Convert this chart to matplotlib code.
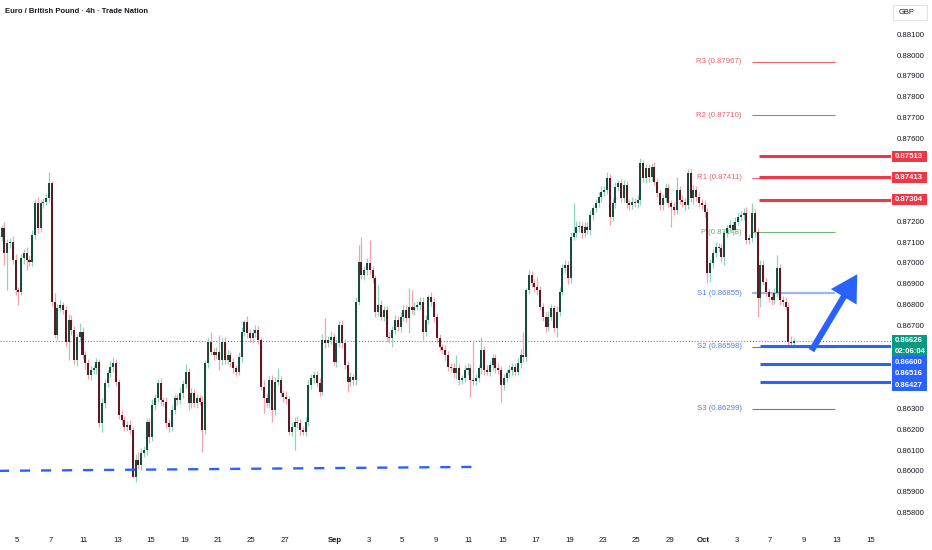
import numpy as np
import matplotlib
matplotlib.use("Agg")
import matplotlib.pyplot as plt
from matplotlib import font_manager
from matplotlib.patches import Rectangle, FancyArrowPatch

# EUR/GBP 4h candles (trading time only, 6 per day), prices in 1e-5 units
first_open = 87125
closes = [
    87167, 87047, 87095, 87103, 87014, 86870, 86862, 87022, 87047, 87014,
    87006, 87135, 87287, 87167, 87287, 87295, 87311, 87383, 86814, 86654,
    86782, 86798, 86774, 86622, 86726, 86678, 86533, 86645, 86670, 86557,
    86517, 86461, 86485, 86493, 86525, 86229, 86325, 86421, 86469, 86501,
    86517, 86429, 86269, 86245, 86213, 86221, 86197, 85972, 86052, 86028,
    86085, 86101, 86237, 86165, 86317, 86349, 86421, 86341, 86333, 86229,
    86213, 86293, 86349, 86341, 86373, 86418, 86477, 86325, 86373,
    86325, 86349, 86333,
    86197, 86517, 86621, 86573, 86557, 86573, 86533, 86621, 86533, 86557,
    86525, 86493, 86477, 86549, 86670, 86718, 86662, 86638, 86662, 86678,
    86630, 86405, 86349, 86325, 86437, 86293, 86429, 86437, 86373, 86357,
    86345, 86189, 86213, 86237, 86229, 86197, 86189, 86237, 86413, 86445,
    86461, 86421, 86381, 86630, 86614, 86630, 86646, 86525, 86614, 86702,
    86614, 86509, 86429, 86453, 86437, 86814, 87006, 86942, 86966, 86999,
    86966, 86926, 86766, 86798, 86742, 86774, 86646,
    86638, 86678, 86726, 86694, 86742, 86774, 86734, 86790, 86774, 86790,
    86798, 86814, 86670, 86726, 86838, 86814, 86742, 86638, 86597, 86582,
    86557, 86501, 86493, 86469, 86493, 86437, 86445, 86485, 86493, 86437,
    86433, 86445, 86493, 86582, 86485, 86477, 86509, 86541, 86493, 86485,
    86413, 86445, 86469, 86485, 86501, 86477, 86517, 86557, 86550, 86870,
    86942, 86902, 86886, 86870, 86790, 86742, 86694, 86742, 86782, 86686,
    86766, 86862, 86974, 86990, 86926, 87127, 87143, 87175,
    87180, 87143, 87175, 87159, 87231, 87263, 87287, 87319, 87343, 87351,
    87407, 87223, 87287, 87367, 87383, 87311, 87375, 87287, 87279, 87295,
    87290, 87303, 87479, 87407, 87455, 87415, 87463, 87391, 87335, 87279,
    87311, 87359, 87287, 87271, 87255, 87351, 87303, 87295, 87279, 87431,
    87311, 87351, 87319, 87287, 87280, 87247, 86950,
    86999, 87047, 87078, 87071, 87030, 87143, 87167, 87183, 87159, 87199,
    87223, 87231, 87239, 87111, 87119, 87239, 87151, 86830, 86990, 86910,
    86862, 86838, 86822, 86854, 86974, 86822, 86814, 86790, 86622, 86614,
    86626,
]
upper_wicks = [
    15, 32, 20, 18, 25, 30, 15, 22, 20, 28, 18, 25, 20, 30, 15,
    18, 20, 55, 10, 42, 20, 25, 15, 20, 30, 25, 20, 15, 40, 20,
    18, 22, 25, 15, 20, 12, 25, 20, 18, 25, 30, 20, 15, 22, 18,
    20, 25, 15, 30, 40, 25, 20, 18, 15, 30, 20, 22, 25, 15, 20,
    18, 25, 20, 22, 30, 20, 35, 18, 25, 20, 22, 18, 25, 15, 20,
    49, 20, 25, 81, 20, 22, 25, 18, 20, 15, 25, 20, 10, 25, 18,
    22, 25, 20, 15, 30, 25, 20, 25, 22, 56, 20, 18, 25, 15, 22,
    20, 25, 18, 20, 22, 25, 20, 18, 20, 25, 30, 104, 20, 25, 18,
    22, 20, 25, 18, 20, 22, 15, 20, 81, 121, 20, 25, 112, 20, 18,
    96, 25, 20, 18, 22, 20, 25, 18, 20, 22, 25, 88, 80, 20, 18,
    22, 20, 25, 8, 20, 22, 18, 20, 15, 22, 18, 20, 25, 64, 20,
    18, 22, 25, 20, 190, 22, 18, 64, 20, 25, 18, 22, 20, 25, 18,
    20, 22, 25, 18, 20, 25, 30, 113, 10, 25, 20, 22, 48, 20, 18,
    22, 25, 20, 18, 25, 22, 20, 25, 18, 22, 144, 25, 20, 18, 22,
    20, 25, 18, 22, 20, 25, 18, 30, 20, 25, 22, 18, 20, 25, 18,
    22, 20, 18, 25, 26, 16, 22, 20, 16, 25, 20, 18, 22, 25, 20,
    18, 22, 64, 20, 25, 18, 22, 20, 25, 18, 22, 20, 25, 18, 20,
    22, 25, 18, 20, 22, 18, 25, 20, 22, 18, 20, 25, 30, 22, 48,
    20, 18, 25, 22, 20, 18, 22, 25, 64, 20, 18, 22, 20, 25, 14,
]
lower_wicks = [
    20, 57, 177, 25, 20, 22, 64, 18, 25, 48, 20, 22, 18, 25, 20,
    22, 18, 20, 20, 14, 25, 18, 20, 22, 89, 25, 20, 30, 22, 18,
    25, 20, 22, 18, 25, 20, 40, 22, 18, 20, 25, 22, 18, 25, 20,
    22, 18, 8, 25, 20, 22, 18, 25, 30, 20, 22, 18, 25, 20, 22,
    25, 20, 18, 22, 20, 25, 18, 30, 22, 20, 25, 18, 105, 20, 22,
    18, 25, 20, 48, 22, 18, 20, 25, 22, 20, 18, 25, 20, 22, 18,
    25, 20, 22, 18, 72, 20, 25, 56, 22, 18, 20, 25, 22, 18, 20,
    112, 22, 25, 18, 20, 22, 18, 25, 20, 22, 18, 25, 20, 22, 18,
    25, 20, 22, 18, 48, 20, 25, 22, 18, 20, 25, 22, 18, 20, 25,
    22, 18, 20, 25, 22, 41, 18, 20, 25, 22, 18, 71, 20, 22, 18,
    25, 40, 22, 18, 20, 25, 22, 18, 20, 25, 22, 18, 20, 25, 22,
    18, 20, 25, 80, 22, 18, 20, 25, 22, 18, 20, 25, 22, 18, 80,
    22, 18, 20, 25, 22, 18, 20, 25, 22, 18, 20, 25, 22, 18, 20,
    25, 22, 18, 20, 40, 22, 18, 20, 25, 22, 18, 20, 25, 22, 18,
    20, 25, 22, 18, 20, 25, 22, 18, 40, 20, 25, 22, 18, 20, 25,
    22, 18, 20, 25, 22, 18, 20, 25, 22, 18, 20, 25, 22, 18, 20,
    100, 22, 18, 20, 25, 22, 18, 20, 25, 22, 18, 20, 25, 48, 40,
    22, 18, 20, 25, 40, 18, 20, 25, 22, 18, 20, 25, 22, 18, 20,
    25, 88, 40, 18, 20, 25, 22, 18, 20, 25, 22, 18, 22, 20, 12,
]

# time axis labels, trading days counted from Aug 5
day_offsets = [0, 2, 4, 6, 8, 10, 12, 14, 16, 19, 21, 23, 25, 27, 29, 31,
               33, 35, 37, 39, 41, 43, 45, 47, 49, 51]
day_labels = ["5", "7", "11", "13", "15", "19", "21", "25", "27", "Sep", "3",
              "5", "9", "11", "15", "17", "19", "23", "25", "29", "Oct", "3",
              "7", "9", "13", "15"]
price_ticks = [0.881, 0.880, 0.879, 0.878, 0.877, 0.876, 0.875, 0.874, 0.873,
               0.872, 0.871, 0.870, 0.869, 0.868, 0.867, 0.866, 0.865, 0.864,
               0.863, 0.862, 0.861, 0.860, 0.859, 0.858]

# weekly pivots
pivot_names = ["R3", "R2", "R1", "P", "S1", "S2", "S3"]
pivot_values = [0.87967, 0.87710, 0.87411, 0.87148, 0.86855, 0.86598, 0.86299]
pivot_colors = ["#f0616d", "#f0616d", "#f0616d", "#74b474",
                "#9db4f5", "#4f7bea", "#4f7bea"]
pivot_label_colors = ["#ef5f6c", "#ef5f6c", "#ef5f6c", "#6aab6a",
                      "#4f7bea", "#4f7bea", "#4f7bea"]

resistance_levels = [0.87513, 0.87413, 0.87304]
support_levels = [0.86600, 0.86516, 0.86427]
last_price = 0.86626
countdown = "02:06:04"

# drawings: (candle index, price)
trend_start = (-1.0, 0.86000)
trend_end = (169.7, 0.86019)
arrow_start = (289.8, 0.86567)
arrow_end = (307.2, 0.86957)

names = {f.name for f in font_manager.fontManager.ttflist}
font = "Liberation Sans Narrow" if "Liberation Sans Narrow" in names else "Liberation Sans"
plt.rcParams["font.family"] = [font, "DejaVu Sans"]

W, H = 932, 550
fig = plt.figure(figsize=(W / 100, H / 100), dpi=100)
fig.patch.set_facecolor("white")
ax = fig.add_axes([0, (H - 528) / H, 891 / W, 528 / H])
ax.set_facecolor("white")
for s in ax.spines.values():
    s.set_visible(False)
ax.set_xlim(-0.573, 318.8)
ax.set_ylim(0.85725, 0.88265)

c = np.array(closes) / 1e5
o = np.array([first_open] + closes[:-1]) / 1e5
hi = np.maximum(o, c) + np.array(upper_wicks) / 1e5
lo = np.minimum(o, c) - np.array(lower_wicks) / 1e5
idx = np.arange(len(c))
up = c >= o

ax.vlines(idx, lo, hi, colors=np.where(up, "#8fd6b9", "#f5a3ae"), lw=0.9, zorder=3)
ax.bar(idx, np.maximum(np.abs(c - o), 0.00002), bottom=np.minimum(o, c), width=0.72,
       color=np.where(up, "#194d3b", "#5c1a22"), linewidth=0, zorder=4)

# pivots
for name, val, col, lcol in zip(pivot_names, pivot_values, pivot_colors, pivot_label_colors):
    lw = 1.6 if name == "S1" else 0.8
    ax.hlines(val, 269, 298.7, colors=col, lw=lw, zorder=2)
    ax.text(265.3, val, f"{name} ({val:.5f})", ha="right", va="center",
            fontsize=5.6, color=lcol, zorder=1)

# horizontal levels
for val in resistance_levels:
    ax.hlines(val, 271.4, 318.8, colors="#f23645", lw=2.2, zorder=5)
for val in support_levels:
    ax.hlines(val, 271.8, 318.8, colors="#2962ff", lw=2.2, zorder=5)

ax.axhline(last_price, color="#089981", lw=0.7, ls=(0, (1, 2)), zorder=2)

# trend line and arrow
ax.plot([trend_start[0], trend_end[0]], [trend_start[1], trend_end[1]],
        color="#2962ff", lw=1.7, ls=(0, (4.3, 4.6)), solid_capstyle="butt", zorder=5)
arrow = FancyArrowPatch(arrow_start, arrow_end,
                        arrowstyle="simple,head_length=1.05,head_width=1.2,tail_width=0.25",
                        mutation_scale=18, color="#2962ff", lw=0, zorder=6)
ax.add_patch(arrow)


def price_to_px(p):
    # pixel row from the top of the figure
    return H - ax.transData.transform((0, p))[1]


boxes = []


def price_box(top, height, color, lines):
    boxes.append((top, top + height))
    fig.patches.append(Rectangle((892 / W, 1 - (top + height) / H), 35 / W, height / H,
                                 transform=fig.transFigure, facecolor=color,
                                 edgecolor="none", zorder=5))
    step = height / len(lines)
    for k, txt in enumerate(lines):
        fig.text(895 / W, 1 - (top + step * (k + 0.5)) / H, txt, fontsize=5.6,
                 color="white", fontweight="semibold", va="center", zorder=6)


box_h = 10.8
for val in resistance_levels:
    price_box(price_to_px(val) - box_h / 2, box_h, "#f23645", [f"{val:.5f}"])

top = price_to_px(last_price) - 5.7
price_box(top, 21.4, "#089981", [f"{last_price:.5f}", countdown])
bottom = top + 21.4
for val in support_levels:
    t0 = max(price_to_px(val) - 11.6 / 2, bottom)
    price_box(t0, 11.6, "#2962ff", [f"{val:.5f}"])
    bottom = t0 + 11.6

# axes ticks; the scale labels hidden behind price boxes are left out
ax.yaxis.tick_right()
ax.set_yticks(price_ticks)
tick_text = []
for t in price_ticks:
    y = price_to_px(t)
    hidden = any(b0 - 4 <= y <= b1 + 4 for b0, b1 in boxes)
    tick_text.append("" if hidden else f"{t:.5f}")
ax.set_yticklabels(tick_text)
ax.tick_params(axis="y", length=0, pad=4.3, labelsize=5.6, labelcolor="#131722")
ax.set_xticks([6 * (d + 1) - 0.5 for d in day_offsets])
ax.set_xticklabels(day_labels)
ax.tick_params(axis="x", length=0, pad=6.5, labelsize=5.6, labelcolor="#131722")
for t in ax.get_xticklabels():
    if t.get_text() in ("Sep", "Oct"):
        t.set_fontweight("bold")

fig.text(5 / W, 1 - 11.5 / H, "Euro / British Pound · 4h · Trade Nation",
         fontsize=5.5, fontweight="bold", color="#131722", va="center")

fig.patches.append(Rectangle((893 / W, 1 - 20 / H), 34 / W, 15 / H, transform=fig.transFigure,
                             facecolor="white", edgecolor="#e0e3eb", lw=0.8))
fig.text(899 / W, 1 - 12.5 / H, "GBP", fontsize=5.4, color="#131722", va="center")

fig.savefig("out.png", dpi=100)
